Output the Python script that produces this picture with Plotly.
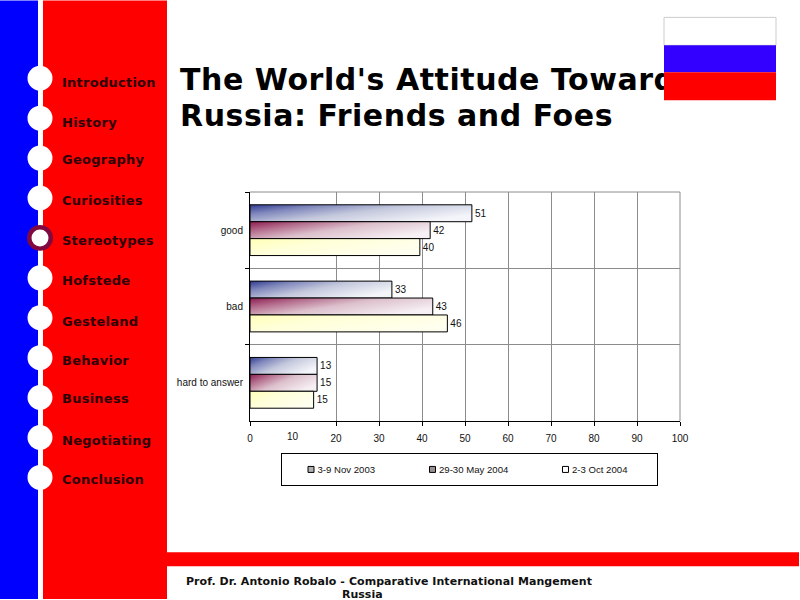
import plotly.graph_objects as go

W, H = 800, 600
L, R, T, B = 250, 680, 192, 421.5

categories = ["good", "bad", "hard to answer"]
series_names = ["3-9 Nov 2003", "29-30 May 2004", "2-3 Oct 2004"]
nov_2003 = [51.6, 33, 15.6]
may_2004 = [41.9, 42.5, 15.6]
oct_2004 = [39.5, 45.9, 14.8]
nov_labels = ["51", "33", "13"]
may_labels = ["42", "43", "15"]
oct_labels = ["40", "46", "15"]
x_ticks = [0, 20, 30, 40, 50, 60, 70, 80, 90, 100]
nav_items = ["Introduction", "History", "Geography", "Curiosities", "Stereotypes", "Hofstede",
             "Gesteland", "Behavior", "Business", "Negotiating", "Conclusion"]
nav_text_y = [82, 122, 159, 201, 241, 281, 322, 361, 399, 441, 480]
nav_dot_y = [78, 118, 158, 198, 238, 278, 318, 358, 398, 438, 478]
title_lines = ["The World's Attitude Toward", "Russia: Friends and Foes"]
title_y = [79, 115]
footer_lines = ["Prof. Dr. Antonio Robalo - Comparative International Mangement", "Russia"]

def px(v):
    return (v - L) / (R - L)

def py(v):
    return (B - v) / (B - T)

def rect(x0, y0, x1, y1, fill, line=None, layer="below"):
    return dict(type="rect", xref="paper", yref="paper", x0=px(x0), x1=px(x1), y0=py(y0), y1=py(y1),
                fillcolor=fill, line=dict(color=line or fill, width=1 if line else 0), layer=layer)

def disc(cx, cy, r, fill):
    return dict(type="circle", xref="paper", yref="paper", x0=px(cx - r), x1=px(cx + r),
                y0=py(cy + r), y1=py(cy - r), fillcolor=fill, line=dict(width=0), layer="below")

def text(s, x, y, size, family, color="#000", xanchor="left", bold=False):
    return dict(text=f"<b>{s}</b>" if bold else s, xref="paper", yref="paper", x=px(x), y=py(y),
                xanchor=xanchor, yanchor="middle", align="left" if xanchor == "left" else "center",
                showarrow=False, borderpad=0, borderwidth=0,
                font=dict(size=size, family=family, color=color))

shapes = [
    rect(0, 0, 38, H, "#0000ff"),
    rect(43, 0, 167, H, "#ff0000"),
    rect(167, 553, 799, 567, "#ff0000"),
]
for name, cy in zip(nav_items, nav_dot_y):
    if name == "Stereotypes":
        shapes.append(disc(40, cy, 13, "#800a40"))
        shapes.append(disc(40, cy, 8.5, "#ffffff"))
    else:
        shapes.append(disc(40, cy, 12.5, "#ffffff"))
shapes += [
    rect(664, 17, 776, 45, "#ffffff", "#cccccc", "above"),
    rect(664, 45, 776, 72, "#3300ff", None, "above"),
    rect(664, 72, 776, 100, "#ff0000", None, "above"),
    dict(type="line", xref="x domain", yref="y domain", x0=0, x1=1, y0=1, y1=1,
         line=dict(color="#8c8c8c", width=1), layer="above"),
    dict(type="line", xref="x domain", yref="y domain", x0=1, x1=1, y0=0, y1=1,
         line=dict(color="#8c8c8c", width=1), layer="above"),
]

DV = "DejaVu Sans"
LS = "Liberation Sans"
annotations = []
for s, y in zip(nav_items, nav_text_y):
    annotations.append(text(s, 62, y, 13, DV, "#2c0008", bold=True))
for s, y in zip(title_lines, title_y):
    annotations.append(text(s, 180, y, 30, DV, "#000", bold=True))
annotations.append(text(footer_lines[0], 186, 582, 11, DV, "#111", bold=True))
annotations.append(text(footer_lines[1], 362, 595, 11, DV, "#111", xanchor="center", bold=True))
annotations.append(dict(text="10", xref="x", yref="paper", x=10, y=py(437.5), xanchor="center", yanchor="middle",
                        showarrow=False, font=dict(size=10, family=LS, color="#111")))

fig = go.Figure()
for name, vals, labels, col in [
    (series_names[0], nov_2003, nov_labels, "#9aa0c8"),
    (series_names[1], may_2004, may_labels, "#c090a8"),
    (series_names[2], oct_2004, oct_labels, "#ffffe0"),
]:
    fig.add_trace(go.Bar(y=categories, x=vals, name=name, orientation="h", text=labels,
                         textposition="outside", cliponaxis=False,
                         textfont=dict(size=10, family=LS, color="#111"),
                         marker=dict(color=col, line=dict(color="#000", width=1))))

fig.update_layout(
    width=W, height=H, margin=dict(l=L, r=W - R, t=T, b=H - B, pad=0),
    paper_bgcolor="#fff", plot_bgcolor="#fff", barmode="group", bargap=0.335, bargroupgap=0,
    shapes=shapes, annotations=annotations,
    font=dict(family=LS, size=10, color="#111"),
    xaxis=dict(range=[0, 100], tickmode="array", tickvals=x_ticks, ticks="outside", ticklen=4,
               tickcolor="#000", showgrid=True, gridcolor="#8c8c8c", gridwidth=1, showline=True,
               ticklabelstandoff=4,
               linecolor="#000", linewidth=1, zeroline=False, tickfont=dict(size=10, family=LS, color="#111")),
    yaxis=dict(type="category", autorange="reversed", tickson="boundaries", ticks="outside", ticklen=4,
               tickcolor="#000", showgrid=True, gridcolor="#8c8c8c", gridwidth=1, showline=True,
               ticklabelstandoff=4,
               linecolor="#000", linewidth=1, tickfont=dict(size=10, family=LS, color="#111")),
    legend=dict(orientation="h", xref="paper", yref="paper", x=px(280.5), y=py(454), xanchor="left", yanchor="top",
                bordercolor="#000", borderwidth=1, bgcolor="#fff", entrywidth=81, entrywidthmode="pixels",
                font=dict(size=9.6, family=LS, color="#111"), traceorder="normal"),
    showlegend=True,
)

post = r"""
document.body.style.margin='0';
var gd=document.querySelector('.plotly-graph-div');
function paint(){
 var svg=gd.querySelector('svg.main-svg');var ns='http://www.w3.org/2000/svg';
 var defs=svg.querySelector('defs');
 var grads=[['gradA',[['0','#2f3a90'],['0.25','#8088bc'],['0.55','#c4c8dc'],['1','#f4f5fa']]],
            ['gradB',[['0','#8c1c50'],['0.25','#b46c8c'],['0.55','#dcc0cc'],['1','#f6eff3']]],
            ['gradC',[['0','#ffffb8'],['0.4','#ffffd8'],['1','#ffffef']]]];
 grads.forEach(function(g){
  var lg=document.createElementNS(ns,'linearGradient');lg.setAttribute('id',g[0]);
  lg.setAttribute('x1','0');lg.setAttribute('y1','0');lg.setAttribute('x2','1');lg.setAttribute('y2','0.6');
  g[1].forEach(function(s){var st=document.createElementNS(ns,'stop');st.setAttribute('offset',s[0]);st.setAttribute('stop-color',s[1]);lg.appendChild(st);});
  defs.appendChild(lg);
 });
 gd.querySelectorAll('.barlayer .trace').forEach(function(t,i){
  t.querySelectorAll('path').forEach(function(p){p.style.fill='url(#'+grads[i][0]+')';p.style.fillOpacity=1;});
 });
 var keys=['#b0b0b0','#989090','#ffffff'];
 var keyOrigin=[10.5,132,265];
 var leg=gd.querySelector('.legend');
 var bg=leg.querySelector('.bg');bg.setAttribute('width','376');bg.setAttribute('height','32');
 leg.querySelector('.scrollbox').removeAttribute('clip-path');
 leg.removeAttribute('clip-path');
 leg.querySelectorAll('.traces').forEach(function(t,i){
  t.setAttribute('transform','translate('+keyOrigin[i]+',16)');
  t.querySelectorAll('.legendpoints path').forEach(function(p){
    p.setAttribute('d','M3,3H-3V-3H3Z');p.style.fill=keys[i];p.style.strokeWidth='1px';});
  var tx=t.querySelector('.legendtext');tx.setAttribute('x','26.5');
 });
 var cp=document.createElementNS(ns,'clipPath');cp.setAttribute('id','titleClip');
 var r=document.createElementNS(ns,'rect');r.setAttribute('x','0');r.setAttribute('y','0');r.setAttribute('width','664');r.setAttribute('height','600');
 cp.appendChild(r);defs.appendChild(cp);
 gd.querySelectorAll('.annotation').forEach(function(a){
  var s=a.textContent;var tt=a.querySelector('text');
  if(s.indexOf('Toward')>=0){a.setAttribute('clip-path','url(#titleClip)');}
  if(s.indexOf('Toward')>=0||s.indexOf('Friends')>=0){tt.style.letterSpacing='0.55px';}
  else if(s.indexOf('Prof.')>=0){tt.style.letterSpacing='0.06px';}
  else if(s.length<14&&s!=='10'&&s!=='Russia'){tt.style.letterSpacing='0.25px';}
 });
}
paint();
"""
fig.write_html("out.html", post_script=post, config={"displayModeBar": False})
